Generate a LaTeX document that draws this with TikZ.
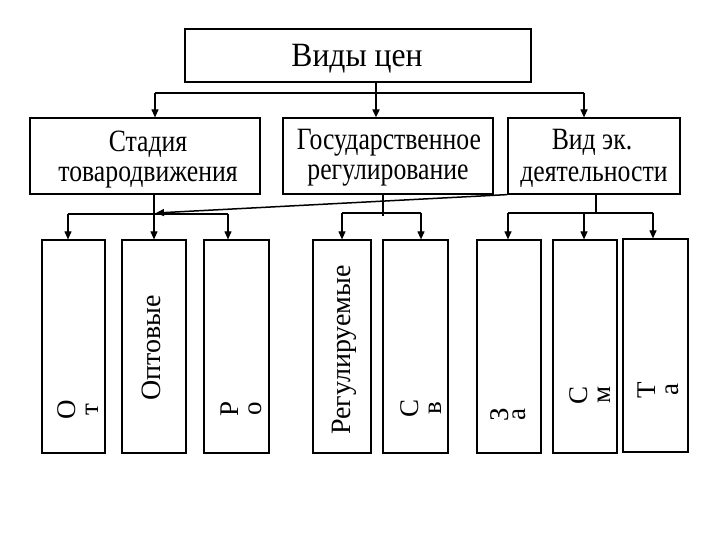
\documentclass[tikz,border=0pt]{standalone}
\usepackage{fontspec}
\setmainfont{Liberation Serif}
\newfontfamily\condfont[FakeStretch=0.83]{Liberation Serif}
\newfontfamily\topfont[FakeStretch=0.93]{Liberation Serif}
\usetikzlibrary{arrows.meta}
\begin{document}
\begin{tikzpicture}[x=1pt,y=-1pt,
  box/.style={draw,line width=1.2pt,inner sep=0pt},
  conn/.style={line width=1.1pt},
  arr/.style={conn,-{Triangle[length=8pt,width=7pt]}},
  big/.style={font=\topfont\fontsize{34}{38}\selectfont,inner sep=0pt},
  mid/.style={font=\condfont\fontsize{31}{30}\selectfont,inner sep=0pt,align=center},
  vert/.style={font=\fontsize{28}{30}\selectfont,inner sep=0pt,rotate=90},
  short/.style={font=\fontsize{27}{23}\selectfont,inner sep=0pt,rotate=90,align=center}]
\useasboundingbox (0,0) rectangle (720,540);
\fill[white] (0,0) rectangle (720,540);
% top
\node[box,minimum width=346pt,minimum height=53pt] (top) at (358,55.5) {};
\node[big,anchor=base] (ttop) at (357,67) {Виды цен};
% second row
\node[box,minimum width=230pt,minimum height=76pt] (b1) at (145,156) {};
\node[box,minimum width=210pt,minimum height=76pt] (b2) at (388,156) {};
\node[box,minimum width=172pt,minimum height=76pt] (b3) at (594,156) {};
\node[mid,anchor=base] (tb1a) at (148,152) {Стадия};
\node[mid,anchor=base] (tb1b) at (148,182) {товародвижения};
\node[mid,anchor=base] (tb2a) at (389,150) {Государственное};
\node[mid,anchor=base] (tb2b) at (388,180) {регулирование};
\node[mid,anchor=base] (tb3a) at (592,150) {Вид эк.};
\node[mid,anchor=base] (tb3b) at (594,182) {деятельности};
% tall boxes
\node[box,minimum width=63pt,minimum height=213pt] (t1) at (73.5,346.5) {};
\node[box,minimum width=64pt,minimum height=213pt] (t2) at (154,346.5) {};
\node[box,minimum width=65pt,minimum height=213pt] (t3) at (236.5,346.5) {};
\node[box,minimum width=58pt,minimum height=213pt] (t4) at (342,346.5) {};
\node[box,minimum width=65pt,minimum height=213pt] (t5) at (415.5,346.5) {};
\node[box,minimum width=64pt,minimum height=213pt] (t6) at (509,346.5) {};
\node[box,minimum width=64pt,minimum height=213pt] (t7) at (585,346.5) {};
\node[box,minimum width=65pt,minimum height=213pt] (t8) at (655.5,345.5) {};
% labels
\node[short] (l1) at (78,410) {О\\т};
\node[vert,anchor=base] (l2) at (160,348) {Оптовые};
\node[short] (l3) at (241,409) {Р\\о};
\node[vert,anchor=base] (l4) at (350,350) {Регулируемые};
\node[short] (l5) at (421,408) {С\\в};
\node[short,font=\fontsize{27}{17}\selectfont] (l6) at (508,415) {З\\а};
\node[short] (l7) at (590,395) {С\\м};
\node[short] (l8) at (658,390) {Т\\а};
% connectors top -> second row
\coordinate (hL) at (155,93);
\coordinate (hM) at (376,93);
\coordinate (hR) at (584,93);
\draw[conn] (hL) -- (hR);
\draw[arr,line width=1.8pt] (top.south -| hM) -- (b2.north -| hM);
\draw[arr] (hL) -- (b1.north -| hL);
\draw[arr] (hR) -- (b3.north -| hR);
% left group
\coordinate (s1) at (154,214);
\coordinate (a1) at (68,214);
\coordinate (a2) at (154,214);
\coordinate (a3) at (228,214);
\draw[conn] (b1.south -| s1) -- (s1);
\draw[conn] (a1) -- (a3);
\draw[arr] (a1) -- (t1.north -| a1);
\draw[arr] (a2) -- (t2.north -| a2);
\draw[arr] (a3) -- (t3.north -| a3);
\coordinate (sl) at (156,213);
\draw[arr,line width=1.5pt] (b3.south west) -- (sl);
% middle group
\coordinate (s2) at (383,216);
\coordinate (m1) at (342,213);
\coordinate (m2) at (421,213);
\draw[conn] (b2.south -| s2) -- (s2);
\draw[conn] (m1) -- (m2);
\draw[arr] (m1) -- (t4.north -| m1);
\draw[arr] (m2) -- (t5.north -| m2);
% right group
\coordinate (s3) at (596,213);
\coordinate (r1) at (508,213);
\coordinate (r2) at (584,213);
\coordinate (r3) at (653,213);
\draw[conn] (b3.south -| s3) -- (s3);
\draw[conn] (r1) -- (r3);
\draw[arr] (r1) -- (t6.north -| r1);
\draw[arr] (r2) -- (t7.north -| r2);
\draw[arr] (r3) -- (t8.north -| r3);
\end{tikzpicture}
\end{document}
